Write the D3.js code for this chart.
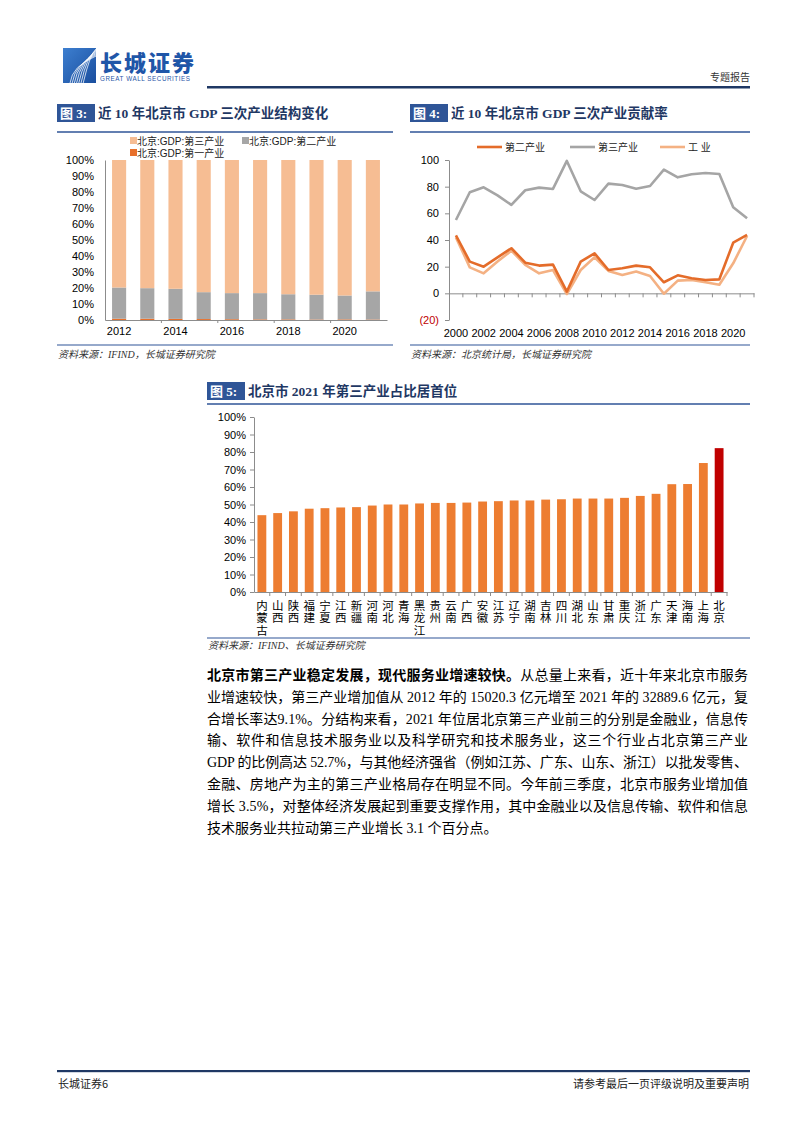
<!DOCTYPE html>
<html><head><meta charset="utf-8">
<script src="https://cdn.jsdelivr.net/npm/d3@7"></script>
<style>body{margin:0;background:#fff} svg{display:block}</style>
</head><body>
<svg id="page" width="802" height="1133"></svg>
<script>
// ---------- DATA ----------
const years3 = ["2012","2013","2014","2015","2016","2017","2018","2019","2020","2021"];
const primary3   = [0.8,0.8,0.7,0.6,0.5,0.4,0.4,0.3,0.4,0.3];
const secondary3 = [19.5,19.1,18.8,16.8,16.3,16.4,15.7,15.5,14.9,17.6];
const tertiary3  = [79.7,80.1,80.5,82.6,83.2,83.2,83.9,84.2,84.7,82.1];
const yTicks3 = [0,10,20,30,40,50,60,70,80,90,100];
const xLabels3 = ["2012","2014","2016","2018","2020"];

const years4 = ["2000","2001","2002","2003","2004","2005","2006","2007","2008","2009","2010","2011","2012","2013","2014","2015","2016","2017","2018","2019","2020","2021"];
const secondary4 = [43.5,23.8,20.0,27.0,33.8,23.0,20.8,21.5,1.3,23.8,30.0,17.5,18.8,20.8,19.5,8.3,13.5,11.3,10.0,10.5,38.0,43.8];
const tertiary4  = [55.0,75.8,79.5,73.5,66.3,77.3,79.3,78.3,99.3,76.5,70.0,82.3,81.3,78.5,80.5,92.8,87.0,89.3,90.3,89.5,64.5,56.3];
const industry4  = [42.0,19.5,15.0,23.8,32.0,21.3,15.0,17.5,-0.5,17.5,27.0,16.8,13.8,16.3,13.0,-0.3,9.5,10.0,8.3,6.5,22.5,43.0];
const yTicks4 = [-20,0,20,40,60,80,100];
const xLabels4 = ["2000","2002","2004","2006","2008","2010","2012","2014","2016","2018","2020"];

const provinces5 = ["内蒙古","山西","陕西","福建","宁夏","江西","新疆","河南","河北","青海","黑龙江","贵州","云南","广西","安徽","江苏","辽宁","湖南","吉林","四川","湖北","山东","甘肃","重庆","浙江","广东","天津","海南","上海","北京"];
const share5 = [43.9,45.1,46.1,47.6,47.9,48.3,48.5,49.4,50.0,50.0,50.6,50.9,50.9,51.1,51.7,51.9,52.3,52.3,52.8,53.0,53.4,53.4,53.4,53.8,54.9,56.1,61.6,61.7,73.7,82.2];
const yTicks5 = [0,10,20,30,40,50,60,70,80,90,100];

const paraLines = [
  ["北京市第三产业稳定发展，现代服务业增速较快。","从总量上来看，近十年来北京市服务"],
  ["","业增速较快，第三产业增加值从 2012 年的 15020.3 亿元增至 2021 年的 32889.6 亿元，复"],
  ["","合增长率达9.1%。分结构来看，2021 年位居北京第三产业前三的分别是金融业，信息传"],
  ["","输、软件和信息技术服务业以及科学研究和技术服务业，这三个行业占北京第三产业"],
  ["","GDP 的比例高达 52.7%，与其他经济强省（例如江苏、广东、山东、浙江）以批发零售、"],
  ["","金融、房地产为主的第三产业格局存在明显不同。今年前三季度，北京市服务业增加值"],
  ["","增长 3.5%，对整体经济发展起到重要支撑作用，其中金融业以及信息传输、软件和信息"],
  ["","技术服务业共拉动第三产业增长 3.1 个百分点。"]
];

// ---------- STYLE ----------
const SANS = "'Liberation Sans', Arial, 'Noto Sans CJK SC', sans-serif";
const SERIF = "'Liberation Serif', 'Times New Roman', 'Noto Sans CJK SC', serif";
const NAVY = "#1F3864";
const BLUE_BOX = "#2F5597";
const C_TER = "#F6BD93", C_SEC = "#A6A6A6", C_PRI = "#E8702A";
const C_L2 = "#E46C2A", C_L3 = "#A5A5A5", C_LI = "#F4B183";
const C_BAR = "#ED7D31", C_BJ = "#C00000";
const AXIS = "#8C8C8C";

const svg = d3.select("#page");
svg.append("rect").attr("width",802).attr("height",1133).attr("fill","#fff");

// ---------- HEADER ----------
const logo = svg.append("g");
const lg = svg.append("defs").append("linearGradient").attr("id","lg").attr("x1",0).attr("y1",0).attr("x2",1).attr("y2",1);
lg.append("stop").attr("offset","0").attr("stop-color","#3D7FD0");
lg.append("stop").attr("offset","1").attr("stop-color","#1A4E9E");
logo.append("rect").attr("x",63).attr("y",48).attr("width",33).attr("height",35).attr("fill","url(#lg)");
d3.range(7).forEach(i=>{
  logo.append("path")
    .attr("d",`M ${70+i*2.2} 83 Q ${72+i*3} ${66-i*2} ${96} ${56-i*1.2}`)
    .attr("fill","none").attr("stroke","#fff").attr("stroke-width",0.9).attr("opacity",0.85);
});
svg.append("text").attr("x",100).attr("y",71).text("长城证券")
  .attr("font-family","'Noto Sans CJK SC', sans-serif").attr("font-weight",900)
  .attr("font-size",22).attr("fill","#1F56A8").attr("letter-spacing",2);
svg.append("text").attr("x",100).attr("y",81).text("GREAT WALL SECURITIES")
  .attr("font-family",SANS).attr("font-size",6.3).attr("fill","#1F56A8").attr("textLength",90);
svg.append("text").attr("x",750).attr("y",81).attr("text-anchor","end").text("专题报告")
  .attr("font-family","'Noto Sans CJK SC', sans-serif").attr("font-size",10).attr("fill","#333");
svg.append("rect").attr("x",207).attr("y",86).attr("width",543).attr("height",2.5).attr("fill",NAVY);

// ---------- helpers ----------
function figTitle(x, y, label, title){
  svg.append("rect").attr("x",x).attr("y",y).attr("width",38).attr("height",18).attr("fill",BLUE_BOX);
  svg.append("text").attr("x",x+3).attr("y",y+14).text(label)
    .attr("font-family",SERIF).attr("font-weight","bold").attr("font-size",13).attr("fill","#fff");
  svg.append("text").attr("x",x+41).attr("y",y+14).text(title)
    .attr("font-family",SERIF).attr("font-weight","bold").attr("font-size",13.5).attr("fill",NAVY);
}
function hline(x1,x2,y,w,color){
  svg.append("line").attr("x1",x1).attr("x2",x2).attr("y1",y).attr("y2",y)
    .attr("stroke",color||"#2F5597").attr("stroke-width",w||1.5);
}
function source(x,y,t){
  svg.append("text").attr("x",x).attr("y",y).text(t)
    .attr("font-family",SERIF).attr("font-style","italic").attr("font-size",10).attr("fill","#333");
}
function styleAxis(g){
  g.selectAll("path,line").attr("stroke",AXIS);
  g.selectAll("text").attr("font-family",SANS).attr("fill","#000");
}

// ---------- FIGURE 3 ----------
figTitle(57,104,"图 3:","近 10 年北京市 GDP 三次产业结构变化");
hline(57,393,132,1.5);
{
  const x = d3.scaleBand().domain(years3).range([105,387]).paddingInner(0.5).paddingOuter(0.25);
  const y = d3.scaleLinear().domain([0,100]).range([320,160]);
  const rows = years3.map((yr,i)=>({yr, p:primary3[i], s:secondary3[i], t:tertiary3[i]}));
  const stack = d3.stack().keys(["p","s","t"])(rows);
  const colors = {p:C_PRI, s:C_SEC, t:C_TER};
  svg.append("g").selectAll("g.layer").data(stack).join("g").attr("fill",d=>colors[d.key])
    .selectAll("rect").data(d=>d).join("rect")
    .attr("x",d=>x(d.data.yr)).attr("width",x.bandwidth())
    .attr("y",d=>y(d[1])).attr("height",d=>y(d[0])-y(d[1]));
  const ya = svg.append("g").attr("transform","translate(105,0)")
    .call(d3.axisLeft(y).tickValues(yTicks3).tickFormat(d=>d+"%").tickSize(0).tickPadding(11));
  styleAxis(ya); ya.selectAll("text").attr("font-size",11);
  const xa = svg.append("g").attr("transform","translate(0,320)")
    .call(d3.axisBottom(x).tickValues(xLabels3).tickSize(0).tickPadding(7).tickSizeOuter(0));
  styleAxis(xa); xa.selectAll("text").attr("font-size",11);
  const step = x.step();
  svg.append("g").selectAll("line").data(xLabels3.slice(1)).join("line")
    .attr("x1",d=>x(d)-(step-x.bandwidth())/2).attr("x2",d=>x(d)-(step-x.bandwidth())/2)
    .attr("y1",320).attr("y2",323).attr("stroke",AXIS);
  const leg = [
    {k:"北京:GDP:第三产业", c:C_TER, lx:130, ly:141},
    {k:"北京:GDP:第二产业", c:C_SEC, lx:242, ly:141},
    {k:"北京:GDP:第一产业", c:C_PRI, lx:130, ly:153}
  ];
  const lgG = svg.append("g").selectAll("g").data(leg).join("g");
  lgG.append("rect").attr("x",d=>d.lx).attr("y",d=>d.ly-4).attr("width",7).attr("height",7).attr("fill",d=>d.c);
  lgG.append("text").attr("x",d=>d.lx+7).attr("y",d=>d.ly+3.5).text(d=>d.k)
    .attr("font-family",SANS).attr("font-size",10).attr("fill","#222");
}
hline(57,393,345,1.2);
source(58,358,"资料来源：IFIND，长城证券研究院");

// ---------- FIGURE 4 ----------
figTitle(410,104,"图 4:","近 10 年北京市 GDP 三次产业贡献率");
hline(410,750,132,1.5);
{
  const x = d3.scaleBand().domain(years4).range([449,754]);
  const cx = d => x(d)+x.bandwidth()/2;
  const y = d3.scaleLinear().domain([-20,100]).range([320,160]);
  const series = [
    {name:"第二产业", vals:secondary4, c:C_L2},
    {name:"第三产业", vals:tertiary4, c:C_L3},
    {name:"工 业", vals:industry4, c:C_LI}
  ];
  const ya = svg.append("g").attr("transform","translate(449,0)")
    .call(d3.axisLeft(y).tickValues(yTicks4).tickFormat(d=>d<0?`(${-d})`:d).tickSize(4).tickPadding(6).tickSizeOuter(0));
  styleAxis(ya); ya.selectAll("text").attr("font-size",11)
    .attr("fill",d=>d<0?"#C00000":"#000");
  const xa = svg.append("g").attr("transform",`translate(0,${y(0)})`)
    .call(d3.axisBottom(x).tickValues([]).tickSizeOuter(0));
  styleAxis(xa);
  svg.append("g").selectAll("line").data(years4).join("line")
    .attr("x1",d=>x(d)+x.step()).attr("x2",d=>x(d)+x.step())
    .attr("y1",y(0)).attr("y2",y(0)+4).attr("stroke",AXIS);
  svg.append("g").selectAll("text").data(xLabels4).join("text")
    .attr("x",d=>cx(d)).attr("y",337).attr("text-anchor","middle").text(d=>d)
    .attr("font-family",SANS).attr("font-size",11).attr("fill","#000");
  const line = d3.line().x((d,i)=>cx(years4[i])).y(d=>y(d));
  [series[2],series[1],series[0]].forEach(s=>{
    svg.append("path").attr("d",line(s.vals)).attr("fill","none")
      .attr("stroke",s.c).attr("stroke-width",2.6).attr("stroke-linejoin","round");
  });
  const legPos = [477,570,660];
  series.forEach((s,i)=>{
    svg.append("line").attr("x1",legPos[i]).attr("x2",legPos[i]+25).attr("y1",147).attr("y2",147)
      .attr("stroke",s.c).attr("stroke-width",2.6);
    svg.append("text").attr("x",legPos[i]+28).attr("y",151).text(s.name)
      .attr("font-family",SANS).attr("font-size",10).attr("fill","#222");
  });
}
hline(410,750,345,1.2);
source(411,358,"资料来源：北京统计局，长城证券研究院");

// ---------- FIGURE 5 ----------
figTitle(207,382,"图 5:","北京市 2021 年第三产业占比居首位");
hline(207,750,404,1.5);
{
  const x = d3.scaleBand().domain(provinces5).range([254,727]).paddingInner(0.44).paddingOuter(0.22);
  const y = d3.scaleLinear().domain([0,100]).range([592,417]);
  svg.append("g").selectAll("rect").data(provinces5).join("rect")
    .attr("x",d=>x(d)).attr("width",x.bandwidth())
    .attr("y",(d,i)=>y(share5[i])).attr("height",(d,i)=>y(0)-y(share5[i]))
    .attr("fill",d=>d==="北京"?C_BJ:C_BAR);
  const ya = svg.append("g").attr("transform","translate(254,0)")
    .call(d3.axisLeft(y).tickValues(yTicks5).tickFormat(d=>d+"%").tickSize(4).tickPadding(4).tickSizeOuter(0));
  styleAxis(ya); ya.selectAll("text").attr("font-size",11);
  const xa = svg.append("g").attr("transform","translate(0,592)")
    .call(d3.axisBottom(x).tickValues([]).tickSizeOuter(0));
  styleAxis(xa);
  const step = x.step();
  svg.append("g").selectAll("line").data(provinces5).join("line")
    .attr("x1",d=>x(d)+x.bandwidth()+(step-x.bandwidth())/2)
    .attr("x2",d=>x(d)+x.bandwidth()+(step-x.bandwidth())/2)
    .attr("y1",592).attr("y2",596).attr("stroke",AXIS);
  // vertical labels written top-to-bottom in one text each
  svg.append("g").selectAll("text").data(provinces5).join("text")
    .attr("x",d=>x(d)+x.bandwidth()/2).attr("y",600)
    .attr("writing-mode","vertical-rl").style("writing-mode","vertical-rl")
    .attr("letter-spacing",0.8).text(d=>d)
    .attr("font-family","'Noto Sans CJK SC', sans-serif").attr("font-size",11.5).attr("fill","#000");
}
hline(207,750,638,1.2);
source(208,649,"资料来源：IFIND、长城证券研究院");

// ---------- PARAGRAPH ----------
{
  const left = 207, right = 748, top = 680, lh = 21.8;
  paraLines.forEach((pl,i)=>{
    const t = svg.append("text").attr("x",left).attr("y",top+i*lh)
      .attr("font-family",SERIF).attr("font-size",14).attr("fill","#000");
    if(pl[0]) t.append("tspan").attr("font-weight","bold").text(pl[0]);
    t.append("tspan").text(pl[1]);
    if(i < paraLines.length-1){
      const w = t.node().getComputedTextLength();
      const n = (pl[0]+pl[1]).length;
      t.attr("letter-spacing",(right-left-w)/(n-1));
    }
  });
}

// ---------- FOOTER ----------
svg.append("rect").attr("x",57).attr("y",1070).attr("width",693).attr("height",2.2).attr("fill",NAVY);
svg.append("text").attr("x",58).attr("y",1088).text("长城证券6")
  .attr("font-family","'Noto Sans CJK SC', sans-serif").attr("font-size",11).attr("fill","#222");
svg.append("text").attr("x",749).attr("y",1088).attr("text-anchor","end").text("请参考最后一页评级说明及重要声明")
  .attr("font-family","'Noto Sans CJK SC', sans-serif").attr("font-size",11).attr("fill","#222");
</script>
</body></html>
